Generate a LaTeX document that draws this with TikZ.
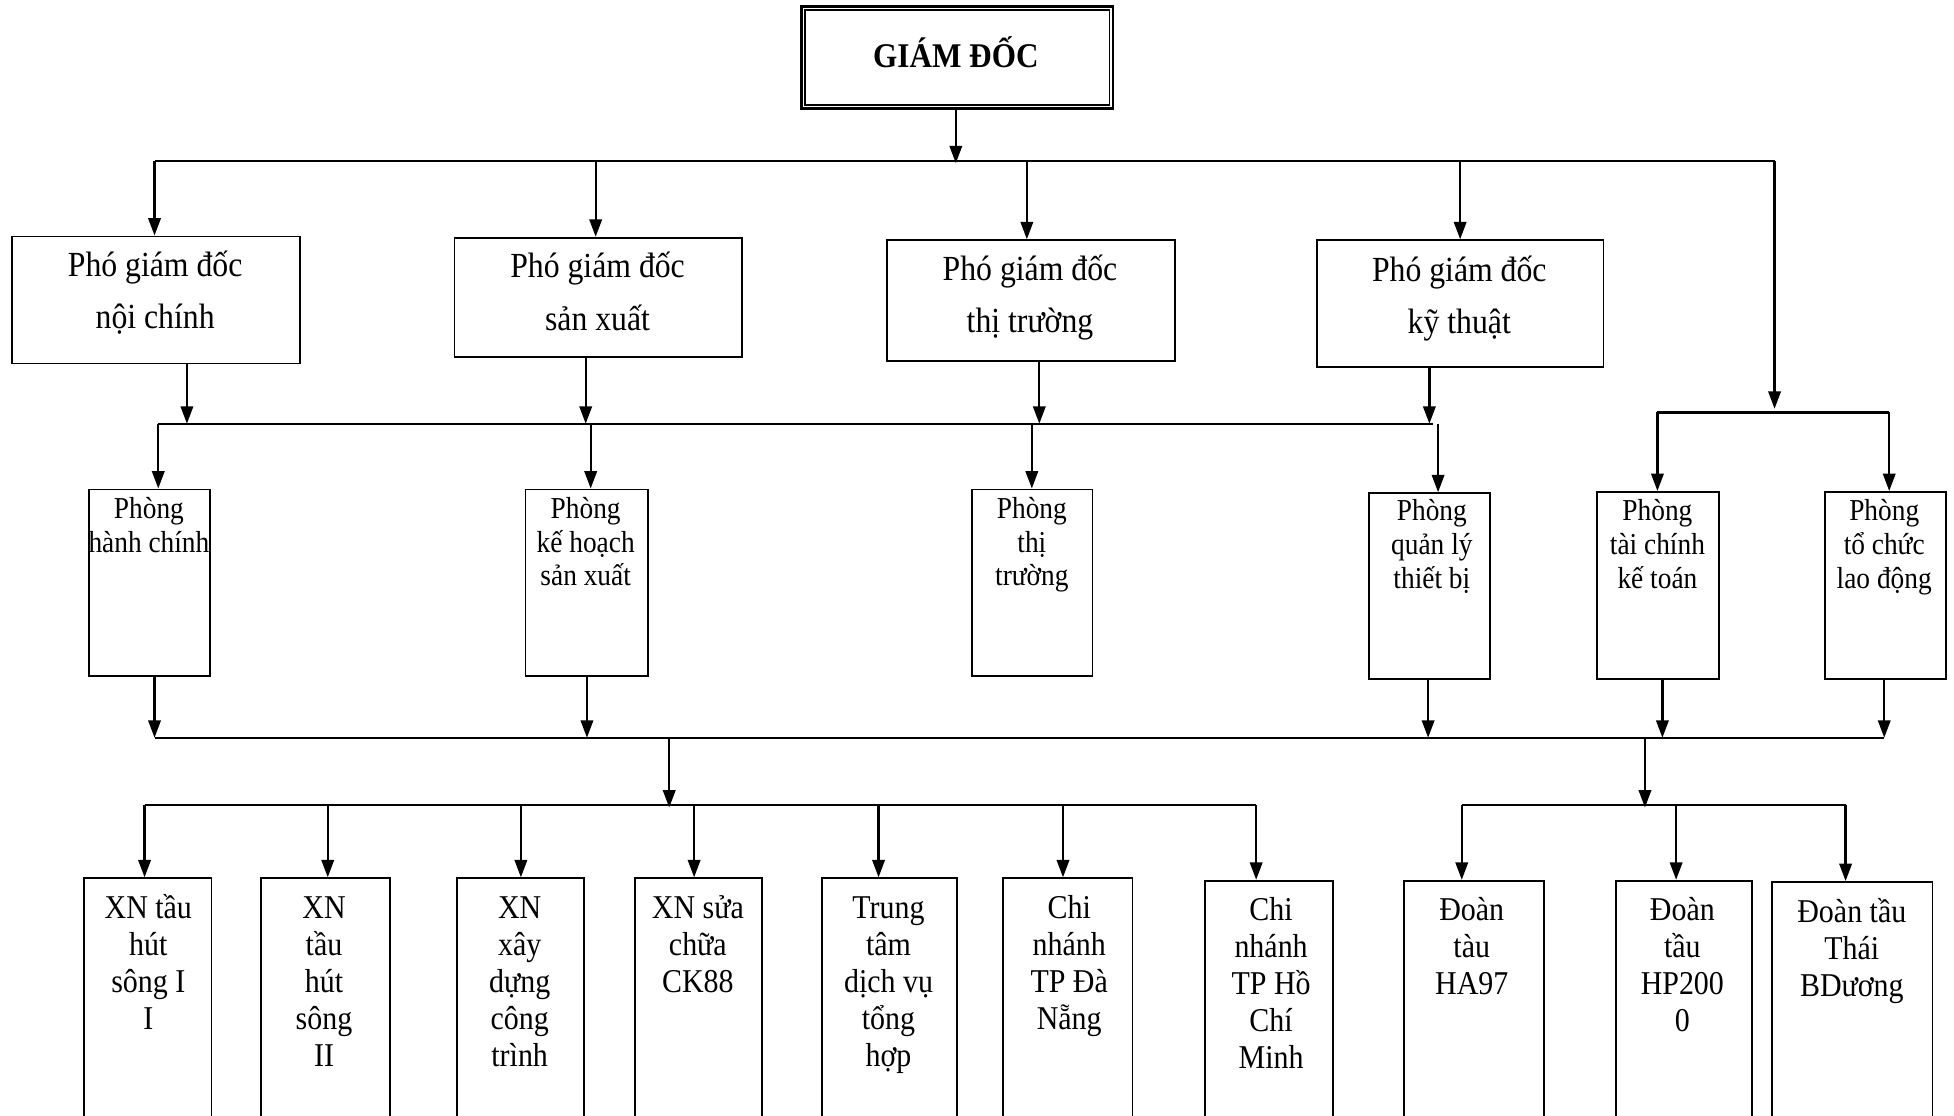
\documentclass[tikz,border=0pt]{standalone}
\usepackage{fontspec}
\setmainfont{Liberation Serif}[FakeStretch=0.9]
\usetikzlibrary{arrows.meta}
\newcommand{\stack}[1]{\parbox[t]{220pt}{\centering #1}}
\begin{document}
\begin{tikzpicture}[x=1pt,y=-1pt,
  box/.style 2 args={draw, line width=1.4pt, anchor=north west, inner sep=0pt,
    minimum width=#1, minimum height=#2},
  txt/.style={anchor=base, inner sep=0pt},
  vptxt/.style={txt, font=\fontsize{28.3}{42}\selectfont},
  rmtxt/.style={txt, font=\fontsize{24.4}{27}\selectfont},
  untxt/.style={txt, font=\fontsize{26.7}{29.7}\selectfont},
  ln/.style={line width=1.8pt},
  arr/.style={line width=1.8pt, -{Triangle[length=14pt,width=10pt]}}]
\useasboundingbox (0,0) rectangle (1568,895);
\fill[white] (0,0) rectangle (1568,895);
\clip (0,0) rectangle (1568,895);

% director
\node[draw, line width=2.2pt, anchor=north west, inner sep=0pt,
      minimum width=250, minimum height=82] (gd) at (642,4) {};
\draw[line width=1pt] ([shift={(4,4)}]gd.north west) rectangle ([shift={(-4,-4)}]gd.south east);
\node[txt, font=\bfseries\fontsize{27.8}{30}\selectfont] (gdt) at (767,54) {GIÁM ĐỐC};

% deputy directors
\node[box={231}{102}] (v1) at (9,189) {};
\node[box={231}{96}]  (v2) at (364,190) {};
\node[box={231}{97}]  (v3) at (711,192) {};
\node[box={230}{102}] (v4) at (1056,192) {};
\node[vptxt] (v1t) at (124.5,222) {\stack{Phó giám đốc\\nội chính}};
\node[vptxt] (v2t) at (479.5,223) {\stack{Phó giám đốc\\sản xuất}};
\node[vptxt] (v3t) at (826.5,225) {\stack{Phó giám đốc\\thị trường}};
\node[vptxt] (v4t) at (1171,226)  {\stack{Phó giám đốc\\kỹ thuật}};

% departments
\node[box={97}{150}] (r1) at (71,392) {};
\node[box={98}{150}] (r2) at (421,392) {};
\node[box={97}{150}] (r3) at (779,392) {};
\node[box={97}{149}] (r4) at (1098,395) {};
\node[box={98}{150}] (r5) at (1281,394) {};
\node[box={97}{150}] (r6) at (1464,394) {};
\node[rmtxt] (r1t) at (119.5,416) {\stack{Phòng\\hành chính}};
\node[rmtxt] (r2t) at (470,416)   {\stack{Phòng\\kế hoạch\\sản xuất}};
\node[rmtxt] (r3t) at (828,416)   {\stack{Phòng\\thị\\trường}};
\node[rmtxt] (r4t) at (1149,418)  {\stack{Phòng\\quản lý\\thiết bị}};
\node[rmtxt] (r5t) at (1330,418)  {\stack{Phòng\\tài chính\\kế toán}};
\node[rmtxt] (r6t) at (1512,418)  {\stack{Phòng\\tổ chức\\lao động}};

% units
\node[box={102}{220}] (u1)  at (67,704) {};
\node[box={103}{220}] (u2)  at (209,704) {};
\node[box={102}{220}] (u3)  at (366,704) {};
\node[box={102}{220}] (u4)  at (509,704) {};
\node[box={108}{220}] (u5)  at (659,704) {};
\node[box={104}{220}] (u6)  at (804,704) {};
\node[box={103}{220}] (u7)  at (966,706) {};
\node[box={112}{220}] (u8)  at (1126,706) {};
\node[box={109}{220}] (u9)  at (1296,706) {};
\node[box={129}{220}] (u10) at (1421,707) {};
\node[untxt] (u1t)  at (119,737)  {\stack{XN tầu\\hút\\sông I\\I}};
\node[untxt] (u2t)  at (260,737)  {\stack{XN\\tầu\\hút\\sông\\II}};
\node[untxt] (u3t)  at (417,737)  {\stack{XN\\xây\\dựng\\công\\trình}};
\node[untxt] (u4t)  at (560,737)  {\stack{XN sửa\\chữa\\CK88}};
\node[untxt] (u5t)  at (713,737)  {\stack{Trung\\tâm\\dịch vụ\\tổng\\hợp}};
\node[untxt] (u6t)  at (858,737)  {\stack{Chi\\nhánh\\TP Đà\\Nẵng}};
\node[untxt] (u7t)  at (1020,739) {\stack{Chi\\nhánh\\TP Hồ\\Chí\\Minh}};
\node[untxt] (u8t)  at (1181,739) {\stack{Đoàn\\tàu\\HA97}};
\node[untxt] (u9t)  at (1350,739) {\stack{Đoàn\\tầu\\HP200\\0}};
\node[untxt] (u10t) at (1486,740) {\stack{Đoàn tầu\\Thái\\BDương}};

% bus points
\coordinate (a0) at (767,129);
\coordinate (aL) at (124,129);
\coordinate (aR) at (1424,129);
\coordinate (cT) at (1424,328);
\coordinate (cL) at (1330,331);
\coordinate (cR) at (1516,331);
\coordinate (bL) at (127,340);
\coordinate (bR) at (1150,340);
\coordinate (k1) at (150,340);
\coordinate (k2) at (470,340);
\coordinate (k3) at (834,340);
\coordinate (k4) at (1147,340);
\coordinate (d2) at (474,340);
\coordinate (d3) at (828,340);
\coordinate (d4) at (1154,340);
\coordinate (eL) at (124,592);
\coordinate (eR) at (1512,592);
\coordinate (e2) at (471,592);
\coordinate (e4) at (1146,592);
\coordinate (e5) at (1334,592);
\coordinate (m1) at (537,592);
\coordinate (m2) at (1320,592);
\coordinate (fL) at (116,646);
\coordinate (fR) at (1008,646);
\coordinate (f2) at (263,646);
\coordinate (f3) at (418,646);
\coordinate (f4) at (557,646);
\coordinate (f5) at (705,646);
\coordinate (f6) at (853,646);
\coordinate (gL) at (1173,646);
\coordinate (g2) at (1345,646);
\coordinate (gR) at (1481,646);

% director to deputies
\draw[arr] (gd.south -| a0) -- ([yshift=-2]a0);
\draw[ln] (aL) -- (aR);
\draw[arr] (aL) -- (aL |- v1.north);
\draw[arr] (478,129) -- (478,190);
\draw[arr] (824,129) -- (824,192);
\draw[arr] (v4.north |- aL) -- (v4.north);
\draw[arr] (aR) -- (cT);

% deputies to departments
\draw[arr] (v1.south -| k1) -- (k1);
\draw[arr] (v2.south -| k2) -- (k2);
\draw[arr] (v3.south -| k3) -- (k3);
\draw[arr] (v4.south -| k4) -- (k4);
\draw[ln] (bL) -- (bR);
\draw[arr] (bL) -- (bL |- r1.north);
\draw[arr] (d2) -- (d2 |- r2.north);
\draw[arr] (d3) -- (d3 |- r3.north);
\draw[arr] (d4) -- (d4 |- r4.north);
\draw[ln] (cL) -- (cR);
\draw[arr] (cL) -- (cL |- r5.north);
\draw[arr] (cR) -- (cR |- r6.north);

% departments to units
\draw[arr] (r1.south -| eL) -- (eL);
\draw[arr] (r2.south -| e2) -- (e2);
\draw[arr] (r4.south -| e4) -- (e4);
\draw[arr] (r5.south -| e5) -- (e5);
\draw[arr] (r6.south -| eR) -- (eR);
\draw[ln] (eL) -- (eR);
\draw[arr] (m1) -- ([yshift=-2]m1 |- fL);
\draw[arr] (m2) -- ([yshift=-2]m2 |- gL);
\draw[ln] (fL) -- (fR);
\draw[arr] (fL) -- (fL |- u1.north);
\draw[arr] (f2) -- (f2 |- u2.north);
\draw[arr] (f3) -- (f3 |- u3.north);
\draw[arr] (f4) -- (f4 |- u4.north);
\draw[arr] (f5) -- (f5 |- u5.north);
\draw[arr] (f6) -- (f6 |- u6.north);
\draw[arr] (fR) -- (fR |- u7.north);
\draw[ln] (gL) -- (gR);
\draw[arr] (gL) -- (gL |- u8.north);
\draw[arr] (g2) -- (g2 |- u9.north);
\draw[arr] (gR) -- (gR |- u10.north);
\end{tikzpicture}
\end{document}
